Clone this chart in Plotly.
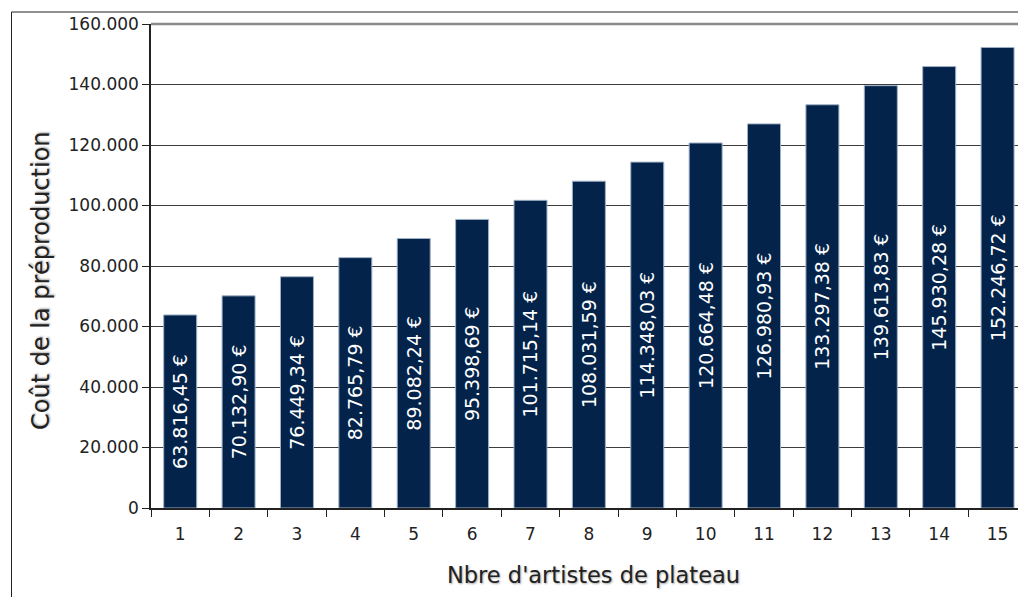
import plotly.graph_objects as go

# Preproduction cost by number of stage performers
artistes = [str(i) for i in range(1, 16)]
couts = [63816.45, 70132.90, 76449.34, 82765.79, 89082.24, 95398.69, 101715.14,
         108031.59, 114348.03, 120664.48, 126980.93, 133297.38, 139613.83,
         145930.28, 152246.72]
y_ticks = [0, 20000, 40000, 60000, 80000, 100000, 120000, 140000, 160000]

FONT = "DejaVu Sans"
DARK = "#222222"
NAVY = "#03234A"

W, H = 1018, 597
ML, MT, MB = 151, 24, 89
plot_w = W - ML
plot_h = H - MT - MB


def px_x(p):
    return (p - ML) / plot_w


def px_y(p):
    return (H - MB - p) / plot_h


fig = go.Figure(
    go.Bar(
        x=artistes,
        y=couts,
        marker=dict(color=NAVY, line=dict(color="#9fb0c6", width=1)),
        texttemplate="%{y:,.2f} €",
        textposition="inside",
        insidetextanchor="middle",
        textangle=-90,
        textfont=dict(family=FONT, size=19, color="white"),
        constraintext="none",
        hoverinfo="skip",
    )
)

fig.update_layout(
    width=W,
    height=H,
    margin=dict(l=ML, r=0, t=MT, b=MB),
    paper_bgcolor="white",
    plot_bgcolor="white",
    separators=",.",
    bargap=0.435,
    showlegend=False,
    font=dict(family=FONT, color=DARK),
)

fig.update_xaxes(
    type="category",
    range=[-0.5, 14.35],
    tickson="boundaries",
    ticks="outside",
    ticklen=7,
    tickcolor=DARK,
    showline=True,
    linecolor=DARK,
    linewidth=1.5,
    showgrid=False,
    ticklabelstandoff=10,
    tickfont=dict(family=FONT, size=17, color=DARK),
)

fig.update_yaxes(
    range=[0, 160000],
    tickvals=y_ticks,
    tickformat=",d",
    ticks="outside",
    ticklen=7,
    tickcolor=DARK,
    showline=True,
    linecolor=DARK,
    linewidth=1.5,
    showgrid=True,
    gridcolor="#3c3c3c",
    gridwidth=1.2,
    zeroline=False,
    tickfont=dict(family=FONT, size=17, color=DARK),
)

shadow = "1px 1px 2px rgba(0,0,0,0.35)"
fig.add_annotation(
    text="Coût de la préproduction",
    xref="paper", yref="paper",
    x=px_x(41), y=px_y(281),
    xanchor="center", yanchor="middle",
    textangle=-90,
    showarrow=False,
    font=dict(family=FONT, size=24, color=DARK, shadow=shadow),
)
fig.add_annotation(
    text="Nbre d'artistes de plateau",
    xref="paper", yref="paper",
    x=px_x(593), y=px_y(575),
    xanchor="center", yanchor="middle",
    showarrow=False,
    font=dict(family=FONT, size=22.5, color=DARK, shadow=shadow),
)

# top edge of the plot area
fig.add_shape(
    type="line", xref="paper", yref="paper",
    x0=0, x1=1, y0=1, y1=1,
    line=dict(color="#8a8a8a", width=2.5),
)
# outer chart frame
fig.add_shape(
    type="rect", xref="paper", yref="paper",
    x0=px_x(11.5), x1=px_x(1030), y0=px_y(620), y1=px_y(12),
    line=dict(color=DARK, width=1),
    fillcolor="rgba(0,0,0,0)",
    layer="below",
)

fig.write_html("out.html")
